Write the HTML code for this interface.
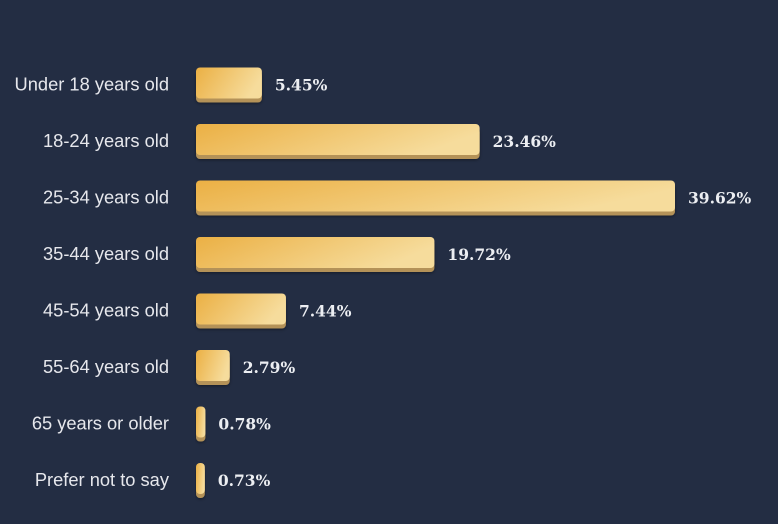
<!DOCTYPE html>
<html><head><meta charset="utf-8"><style>
body{margin:0;background:#232d43;}
svg{display:block;}
</style></head><body>
<svg width="778" height="524">
<defs>
<linearGradient id="g" x1="0" y1="0" x2="1" y2="0.3"><stop offset="0" stop-color="#ebb044"/><stop offset="1" stop-color="#f6dc9c"/></linearGradient>
<filter id="sh" x="-10%" y="-20%" width="120%" height="150%"><feDropShadow dx="0" dy="1" stdDeviation="1.5" flood-color="#000" flood-opacity="0.4"/></filter>
</defs>
<rect width="778" height="524" fill="#232d43"/>
<g id="bars"></g>
</svg>
<script>
const categories=["Under 18 years old","18-24 years old","25-34 years old","35-44 years old","45-54 years old","55-64 years old","65 years or older","Prefer not to say"];
const values=[5.45,23.46,39.62,19.72,7.44,2.79,0.78,0.73];
const labels=["5.45%","23.46%","39.62%","19.72%","7.44%","2.79%","0.78%","0.73%"];
const x0=196, scale=(675-196)/39.62;
const xPos=v=>x0+v*scale;
const yCenter=i=>84.5+i*56.5;
const g=document.getElementById('bars');
const NS="http://www.w3.org/2000/svg";
function mk(t,a){const e=document.createElementNS(NS,t);for(const k in a)e.setAttribute(k,a[k]);return e;}
categories.forEach((c,i)=>{
  const yc=yCenter(i), w=Math.max(xPos(values[i])-x0,7), top=yc-17;
  const grp=mk('g',{});
  
  
  const base=mk('rect',{x:x0,y:top+4,width:w,height:31,rx:4,fill:'#b49259',filter:'url(#sh)'});
  
  
  const bar=mk('rect',{x:x0,y:top,width:w,height:31,rx:4,fill:'url(#g)'});
  
  
  const lab=mk('text',{x:169,y:yc+6,'text-anchor':'end','font-family':'Liberation Sans, sans-serif','font-size':'18.3',fill:'#e6e7ec'});
  lab.textContent=c;
  
  
  const val=mk('text',{x:x0+w+13,y:yc+6,'font-family':'DejaVu Serif, Liberation Serif, serif','font-weight':'bold','font-size':'15.5',fill:'#eceef2'});
  val.textContent=labels[i];
  
  
  grp.append(base,bar,lab,val);g.appendChild(grp);
});
</script>
</body></html>
